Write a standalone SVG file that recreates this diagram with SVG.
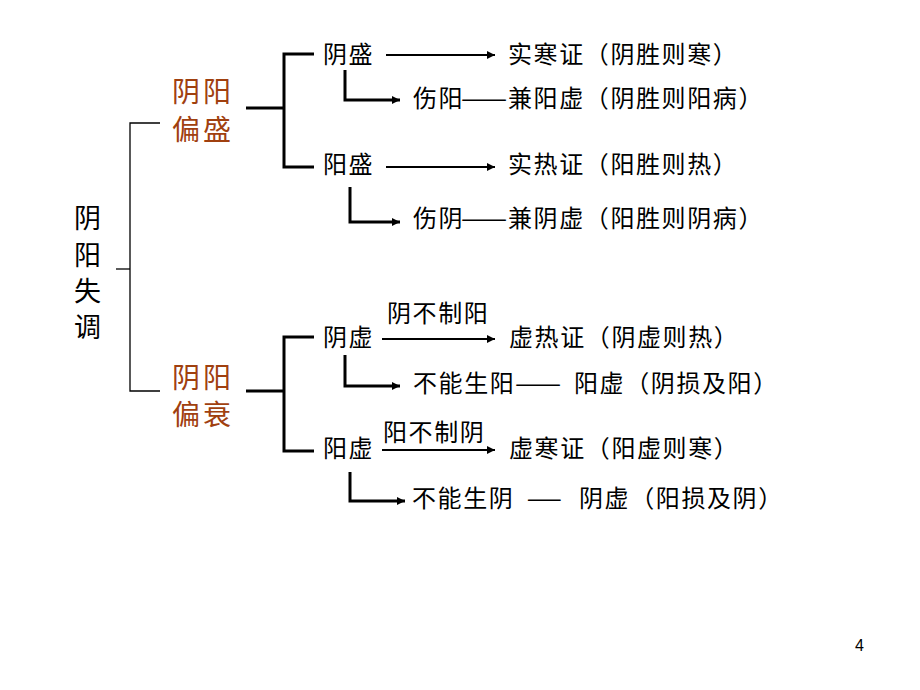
<svg xmlns="http://www.w3.org/2000/svg" width="920" height="690" viewBox="0 0 920 690">
<style>
.t{font-family:"Noto Sans CJK SC","Noto Sans CJK JP",sans-serif;font-size:24px;fill:#000;letter-spacing:1.6px}
.b{font-family:"Noto Sans CJK SC","Noto Sans CJK JP",sans-serif;font-size:28px;fill:#A0400F;letter-spacing:3px}
.m{font-family:"Noto Sans CJK SC","Noto Sans CJK JP",sans-serif;font-size:27px;fill:#000}
.thin{fill:none;stroke:#000;stroke-width:1.3}
.thick{fill:none;stroke:#000;stroke-width:3}
.arr{fill:none;stroke:#000;stroke-width:2.2;marker-end:url(#ah)}
.elb{fill:none;stroke:#000;stroke-width:3;marker-end:url(#ah)}
.pg{font-family:"Liberation Sans",Arial,sans-serif;font-size:16px;fill:#000}
</style>
<defs>
<marker id="ah" markerWidth="10" markerHeight="10" refX="8" refY="4" orient="auto" markerUnits="userSpaceOnUse"><path d="M0,0 L8,4 L0,8 Z" fill="#000"/></marker>
</defs>
<rect width="920" height="690" fill="#fff"/>
<g id="connectors">
<path class="thin" d="M160,123 H130 V391 H160"/>
<path class="thin" d="M116,269 H130"/>
<path class="thick" d="M246,108 H284"/>
<path class="thick" d="M314,54 H284 V167 H314"/>
<path class="thick" d="M246,391 H284"/>
<path class="thick" d="M314,337 H284 V451 H314"/>
<path class="arr" d="M386,55 H495"/>
<path class="arr" d="M386,167 H495"/>
<path class="arr" d="M382,339 H495"/>
<path class="arr" d="M382,450 H495"/>
<path class="elb" d="M345,70 V100 H400"/>
<path class="elb" d="M350,187 V222 H400"/>
<path class="elb" d="M345,355 V386 H400"/>
<path class="elb" d="M350,472 V501 H405"/>
</g>
<g id="root"><text class="m" x="74" y="228">阴</text><text class="m" x="74" y="265">阳</text><text class="m" x="74" y="301">失</text><text class="m" x="74" y="337">调</text></g>
<g id="excess"><text class="b" x="172" y="102">阴阳</text><text class="b" x="172" y="140">偏盛</text></g>
<g id="deficiency"><text class="b" x="172" y="388">阴阳</text><text class="b" x="172" y="425">偏衰</text></g>
<g id="yin-excess"><text class="t" x="323" y="63">阴盛</text></g>
<g id="shi-han"><text class="t" x="508" y="63">实寒证（阴胜则寒）</text></g>
<g id="shang-yang"><text class="t" y="107"><tspan x="413">伤阳</tspan><tspan x="461" textLength="48" lengthAdjust="spacingAndGlyphs">——</tspan><tspan x="508">兼阳虚（阴胜则阳病）</tspan></text></g>
<g id="yang-excess"><text class="t" x="323" y="173">阳盛</text></g>
<g id="shi-re"><text class="t" x="508" y="173">实热证（阳胜则热）</text></g>
<g id="shang-yin"><text class="t" y="227"><tspan x="413">伤阴</tspan><tspan x="461" textLength="48" lengthAdjust="spacingAndGlyphs">——</tspan><tspan x="508">兼阴虚（阳胜则阴病）</tspan></text></g>
<g id="yin-def"><text class="t" x="323" y="346">阴虚</text></g>
<g id="label1"><text class="t" x="387" y="322">阴不制阳</text></g>
<g id="xu-re"><text class="t" x="509" y="346">虚热证（阴虚则热）</text></g>
<g id="yin-sun"><text class="t" y="392"><tspan x="413">不能生阳</tspan><tspan x="515" textLength="48" lengthAdjust="spacingAndGlyphs">——</tspan><tspan x="567"> 阳虚（阴损及阳）</tspan></text></g>
<g id="yang-def"><text class="t" x="323" y="457">阳虚</text></g>
<g id="label2"><text class="t" x="383" y="441">阳不制阴</text></g>
<g id="xu-han"><text class="t" x="509" y="457">虚寒证（阳虚则寒）</text></g>
<g id="yang-sun"><text class="t" y="507"><tspan x="412">不能生阴 </tspan><tspan x="527" textLength="36" lengthAdjust="spacingAndGlyphs">——</tspan><tspan x="572"> 阴虚（阳损及阴）</tspan></text></g>
<text class="pg" x="855" y="651">4</text>
</svg>
